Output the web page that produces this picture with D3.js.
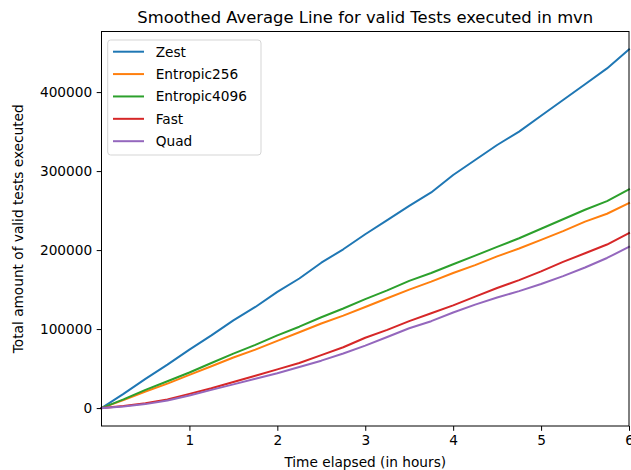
<!DOCTYPE html>
<html>
<head>
<meta charset="utf-8">
<script src="https://cdn.jsdelivr.net/npm/d3@7"></script>
<style>
  html, body { margin: 0; padding: 0; background: #fff; }
  svg { display: block; font-family: "DejaVu Sans", sans-serif; }
</style>
</head>
<body>
<svg id="chart" width="631" height="470"></svg>
<script>
const hours = [0,0.25,0.5,0.75,1,1.25,1.5,1.75,2,2.25,2.5,2.75,3,3.25,3.5,3.75,4,4.25,4.5,4.75,5,5.25,5.5,5.75,6];
const zest = [0,18000,37000,55000,74000,92000,111000,128000,147000,164000,184000,201000,220000,238000,256000,273000,295000,314000,333000,350000,370000,390000,410000,430000,454000];
const entropic256 = [0,10000,21000,31000,42000,53000,64000,74000,85000,96000,107000,117000,128000,139000,150000,160000,171000,181000,192000,202000,213000,224000,236000,246000,259500];
const entropic4096 = [0,11000,23000,34000,45000,57000,69000,80000,92000,103000,115000,126000,138000,149000,161000,171000,182000,193000,204000,215000,227000,239000,251000,262000,277000];
const fast = [0,2500,6000,11000,18000,25000,33000,41000,49000,57000,67000,77000,89000,99000,110000,120000,130000,141000,152000,162000,173000,185000,196000,207000,221500];
const quad = [0,2000,5000,9500,16000,23000,30000,37000,44000,52000,60000,69000,79000,90000,101000,110000,121000,131000,140000,148000,157000,167000,178000,190000,204000];
const seriesNames = ["Zest","Entropic256","Entropic4096","Fast","Quad"];
const seriesColors = ["#1f77b4","#ff7f0e","#2ca02c","#d62728","#9467bd"];
const xTicks = [1,2,3,4,5,6];
const yTicks = [0,100000,200000,300000,400000];
const titleText = "Smoothed Average Line for valid Tests executed in mvn";
const xLabel = "Time elapsed (in hours)";
const yLabel = "Total amount of valid tests executed";

const seriesValues = [zest, entropic256, entropic4096, fast, quad];

const svg = d3.select("#chart");
const L = 101.5, R = 629, T = 31.5, B = 426;
const fs = 13.7;

const yMax = d3.max(seriesValues.flat());
const pad = yMax * 0.05;
const x = d3.scaleLinear().domain([0, 6]).range([L, R]);
const y = d3.scaleLinear().domain([-pad, yMax + pad]).range([B, T]);

// lines
const line = d3.line().x((d, i) => x(hours[i])).y(d => y(d));
const g = svg.append("g");
seriesValues.forEach((vals, k) => {
  g.append("path")
    .datum(vals)
    .attr("fill", "none")
    .attr("stroke", seriesColors[k])
    .attr("stroke-width", 2)
    .attr("stroke-linejoin", "round")
    .attr("stroke-linecap", "square")
    .attr("d", line);
});

// axes
const xAxis = d3.axisBottom(x).tickValues(xTicks).tickFormat(d3.format("d")).tickSizeOuter(0).tickSize(4.8).tickPadding(4.5);
const yAxis = d3.axisLeft(y).tickValues(yTicks).tickFormat(d3.format("d")).tickSizeOuter(0).tickSize(4.8).tickPadding(4.5);

const gx = svg.append("g").attr("transform", `translate(0,${B})`).call(xAxis);
const gy = svg.append("g").attr("transform", `translate(${L},0)`).call(yAxis);
[gx, gy].forEach(ax => {
  ax.select(".domain").remove();
  ax.selectAll("line").attr("stroke", "#000").attr("stroke-width", 1);
  ax.selectAll("text").attr("font-family", "DejaVu Sans").attr("font-size", fs).attr("fill", "#000");
});

// frame
svg.append("rect")
  .attr("x", L).attr("y", T).attr("width", R - L).attr("height", B - T)
  .attr("fill", "none").attr("stroke", "#000").attr("stroke-width", 1);

// title and labels
svg.append("text").attr("x", (L + R) / 2).attr("y", 23)
  .attr("text-anchor", "middle").attr("font-size", 16.4).attr("fill", "#000").text(titleText);
svg.append("text").attr("x", (L + R) / 2).attr("y", 467)
  .attr("text-anchor", "middle").attr("font-size", fs).attr("fill", "#000").text(xLabel);
svg.append("text").attr("transform", `translate(23,${(T + B) / 2}) rotate(-90)`)
  .attr("text-anchor", "middle").attr("font-size", fs).attr("fill", "#000").text(yLabel);

// legend
const lg = svg.append("g");
lg.append("rect").attr("x", 107.7).attr("y", 40).attr("width", 153.3).attr("height", 115)
  .attr("rx", 3).attr("fill", "#fff").attr("fill-opacity", 0.8)
  .attr("stroke", "#d5d5d5").attr("stroke-width", 1);
const rowY = d3.scaleLinear().domain([0, seriesNames.length - 1]).range([51.7, 141.2]);
seriesNames.forEach((name, k) => {
  const yy = rowY(k);
  lg.append("line").attr("x1", 113).attr("x2", 144).attr("y1", yy).attr("y2", yy)
    .attr("stroke", seriesColors[k]).attr("stroke-width", 2);
  lg.append("text").attr("x", 155.7).attr("y", yy).attr("dy", "0.36em")
    .attr("font-size", fs).attr("fill", "#000").text(name);
});
</script>
</body>
</html>
